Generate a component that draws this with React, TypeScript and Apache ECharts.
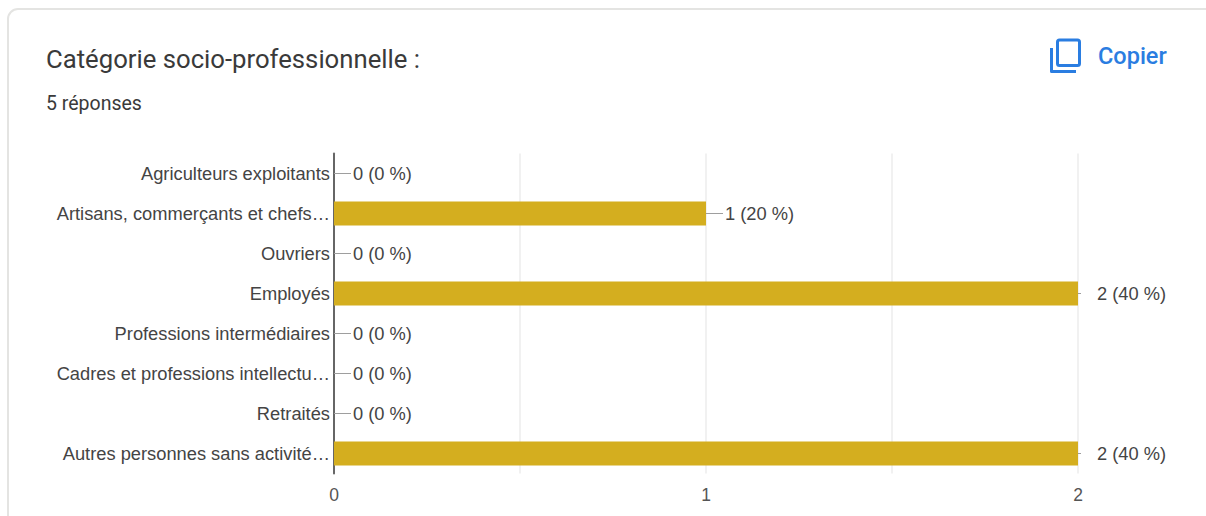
import React, { useEffect, useRef } from "react";
import * as echarts from "echarts";

const categories = [
  "Agriculteurs exploitants",
  "Artisans, commerçants et chefs…",
  "Ouvriers",
  "Employés",
  "Professions intermédiaires",
  "Cadres et professions intellectu…",
  "Retraités",
  "Autres personnes sans activité…",
];
const responses = [0, 1, 0, 2, 0, 0, 0, 2];
const percentages = [0, 20, 0, 40, 0, 0, 0, 40];
const valueTicks = [0, 1, 2];

const heading = "Catégorie socio-professionnelle :";
const responseCount = "5 réponses";
const copyLabel = "Copier";

const TEXT = "#444444";
const BLUE = "#2a7de1";
const BAR = "#d4ae1f";
const LABEL_FONT = "'Liberation Sans', Arial, sans-serif";

export default function App() {
  const ref = useRef<HTMLDivElement>(null);

  useEffect(() => {
    const chart = echarts.init(ref.current!, null, { renderer: "svg" });
    chart.setOption({
      animation: false,
      backgroundColor: "#ffffff",
      grid: { left: 334, right: 128, top: 153.5, height: 320, containLabel: false },
      xAxis: {
        type: "value",
        min: 0,
        max: 2,
        interval: 0.5,
        axisLine: { show: false },
        axisTick: { show: false },
        splitLine: { show: true, lineStyle: { color: "#f1f1f1", width: 2 } },
        axisLabel: {
          color: "#555555",
          fontFamily: LABEL_FONT,
          fontSize: 17.5,
          margin: 12,
          formatter: (v: number) => (valueTicks.includes(v) ? String(v) : ""),
        },
      },
      yAxis: {
        type: "category",
        inverse: true,
        data: categories,
        axisLine: { show: true, lineStyle: { color: "#666666", width: 2 } },
        axisTick: { show: false },
        axisLabel: {
          color: TEXT,
          fontFamily: LABEL_FONT,
          fontSize: 18.3,
          margin: 4,
          interval: 0,
        },
      },
      series: [
        {
          type: "bar",
          data: responses,
          barWidth: 24,
          itemStyle: { color: BAR },
          z: 2,
          label: {
            show: true,
            position: "right",
            distance: 19,
            color: TEXT,
            fontFamily: LABEL_FONT,
            fontSize: 18.3,
            formatter: (p: { dataIndex: number; value: number }) =>
              `${p.value} (${percentages[p.dataIndex]} %)`,
          },
        },
        {
          // Leader lines between each bar end and its label
          type: "custom",
          data: responses.map((v, i) => [v, i]),
          encode: { x: 0, y: 1 },
          clip: false,
          silent: true,
          z: 3,
          renderItem: (params: any, api: any) => {
            const [x, y] = api.coord([api.value(0), api.value(1)]);
            const plotRight = params.coordSys.x + params.coordSys.width;
            const end = x >= plotRight ? x + 3 : x + 17;
            return {
              type: "line",
              shape: { x1: x, y1: y, x2: end, y2: y },
              style: { stroke: "#9e9e9e", lineWidth: 1 },
            };
          },
        },
      ],
      graphic: [
        {
          type: "rect",
          silent: true,
          z: -1,
          shape: { x: 8, y: 9, width: 1210, height: 530, r: 10 },
          style: { fill: "#ffffff", stroke: "#e4e4e2", lineWidth: 2 },
        },
        {
          type: "text",
          x: 46,
          y: 46,
          style: {
            text: heading,
            font: "400 25.7px Roboto, sans-serif",
            fill: "#3a3a3a",
          },
        },
        {
          type: "text",
          x: 46,
          y: 93,
          style: {
            text: responseCount,
            font: "400 19.5px Roboto, sans-serif",
            fill: "#3a3a3a",
          },
        },
        {
          type: "rect",
          shape: { x: 1057.5, y: 40, width: 22, height: 25.5, r: 2 },
          style: { fill: "none", stroke: BLUE, lineWidth: 3 },
        },
        {
          type: "polyline",
          shape: { points: [[1051.5, 48], [1051.5, 71.5], [1076, 71.5]] },
          style: { fill: "none", stroke: BLUE, lineWidth: 3, lineJoin: "round" },
        },
        {
          type: "text",
          x: 1098,
          y: 44,
          style: {
            text: copyLabel,
            font: "500 23.5px Roboto, sans-serif",
            fill: BLUE,
          },
        },
      ],
    });
    return () => chart.dispose();
  }, []);

  return (
    <div
      ref={ref}
      style={{ position: "absolute", left: 0, top: 0, width: 1206, height: 516 }}
    />
  );
}
